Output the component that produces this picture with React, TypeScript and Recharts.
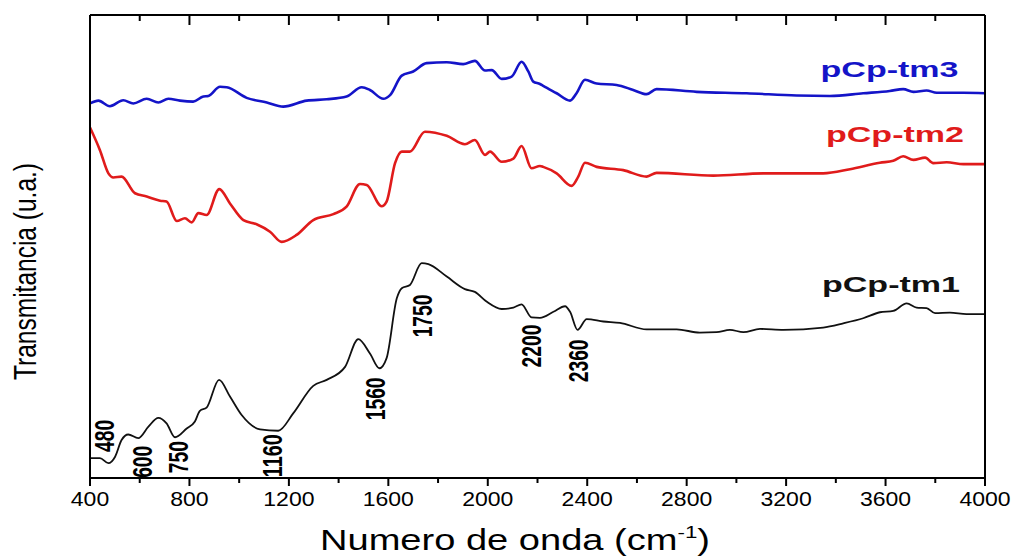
import React from 'react'
import { LineChart, Line, XAxis, YAxis, ReferenceDot } from 'recharts'

// pCp-tm3 (blue, top trace)
const tm3Wn = [400, 434, 480, 534, 574, 628, 675, 715, 762, 815, 856, 876, 923, 950, 1030, 1111, 1177, 1272, 1352, 1432, 1493, 1526, 1580, 1607, 1654, 1700, 1754, 1835, 1901, 1948, 1989, 2016, 2056, 2096, 2136, 2163, 2183, 2210, 2223, 2277, 2331, 2357, 2391, 2438, 2518, 2585, 2639, 2679, 2840, 3041, 3242, 3376, 3510, 3617, 3671, 3712, 3765, 3806, 3913, 4000]
const tm3T = [80.9, 81.5, 80.3, 81.6, 80.9, 81.9, 81.1, 81.9, 81.5, 81.3, 82.4, 82.5, 84.5, 84.4, 82.1, 81.1, 80.2, 81.5, 81.8, 82.4, 84.4, 83.8, 81.9, 82.7, 86.9, 87.8, 89.6, 89.8, 89.4, 90.1, 88.0, 88.1, 86.2, 86.7, 89.9, 87.8, 85.6, 85.1, 84.7, 83.1, 81.5, 83.1, 86.0, 85.2, 84.9, 83.8, 82.9, 84.0, 83.4, 83.1, 82.6, 82.5, 83.1, 83.6, 84.0, 83.4, 83.7, 83.2, 83.2, 83.1]

// pCp-tm2 (red, middle trace)
const tm2Wn = [400, 440, 474, 494, 527, 581, 628, 682, 708, 749, 782, 809, 836, 869, 920, 963, 1017, 1070, 1124, 1171, 1231, 1298, 1379, 1432, 1486, 1513, 1573, 1593, 1627, 1654, 1687, 1747, 1835, 1908, 1948, 1989, 2009, 2056, 2103, 2136, 2176, 2210, 2223, 2277, 2337, 2364, 2391, 2438, 2545, 2639, 2679, 2907, 3108, 3349, 3457, 3577, 3631, 3671, 3712, 3759, 3792, 3846, 3913, 4000]
const tm2T = [75.7, 70.8, 65.8, 64.9, 65.1, 61.5, 60.8, 59.9, 59.7, 55.5, 56.1, 55.2, 57.2, 56.8, 62.4, 59.3, 55.7, 54.8, 53.2, 51.0, 52.5, 55.7, 57.0, 58.6, 63.5, 63.3, 58.7, 59.7, 68.0, 70.5, 70.5, 74.8, 73.9, 72.1, 73.0, 69.8, 70.5, 68.3, 69.0, 71.7, 66.9, 67.4, 67.2, 65.8, 63.1, 65.1, 68.1, 67.2, 66.5, 65.1, 65.9, 65.3, 65.8, 65.8, 66.7, 68.1, 68.5, 69.5, 68.7, 69.2, 68.0, 68.2, 67.8, 67.8]

// pCp-tm1 (black, bottom trace)
const tm1Wn = [400, 440, 474, 501, 527, 554, 594, 635, 675, 708, 742, 789, 822, 842, 869, 919, 963, 1010, 1084, 1157, 1218, 1298, 1352, 1426, 1479, 1526, 1564, 1593, 1634, 1654, 1687, 1734, 1761, 1835, 1908, 1948, 1995, 2056, 2103, 2136, 2176, 2210, 2264, 2311, 2331, 2361, 2398, 2465, 2532, 2639, 2760, 2853, 2920, 2974, 3028, 3095, 3189, 3349, 3430, 3510, 3577, 3631, 3685, 3725, 3765, 3799, 3859, 3926, 4000]
const tm1T = [4.3, 4.3, 3.2, 4.6, 8.2, 9.4, 8.6, 11.1, 13.0, 11.8, 8.8, 10.7, 12.2, 14.5, 15.2, 21.2, 17.6, 13.6, 10.5, 10.2, 14.0, 19.9, 21.2, 24.0, 30.0, 26.9, 23.7, 25.9, 38.8, 41.0, 41.7, 46.4, 46.2, 43.5, 40.8, 40.2, 38.1, 36.5, 36.8, 37.5, 34.7, 34.6, 35.9, 37.1, 35.9, 32.0, 34.3, 33.8, 33.5, 32.1, 32.1, 31.4, 31.5, 32.0, 31.5, 32.2, 32.0, 32.5, 33.4, 34.5, 35.8, 36.1, 37.7, 36.8, 36.7, 35.6, 35.7, 35.4, 35.4]

// band annotations on the tm1 trace
const peakLabels = ['480', '600', '750', '1160', '1560', '1750', '2200', '2360']
const peakWn = [460, 613, 758, 1134, 1550, 1737, 2174, 2365]
const peakT = [9.1, 3.5, 4.5, 4.8, 17.1, 35.0, 28.5, 25.3]

const seriesNames = ['pCp-tm1', 'pCp-tm2', 'pCp-tm3']
const seriesColors = ['#111111', '#e01b1b', '#1414c8']
const seriesLabelWn = [3622, 3638, 3616]
const seriesLabelT = [40.2, 72.6, 86.6]

const xMajorTicks = [400, 800, 1200, 1600, 2000, 2400, 2800, 3200, 3600, 4000]
const xAllTicks = [400, 600, 800, 1000, 1200, 1400, 1600, 1800, 2000, 2200, 2400, 2600, 2800, 3000, 3200, 3400, 3600, 3800, 4000]

const FONT = '"Liberation Sans", Arial, Helvetica, sans-serif'

const toPoints = (wn: number[], t: number[]) => wn.map((w, i) => ({ wn: w, t: t[i] }))

const tm1Data = toPoints(tm1Wn, tm1T)
const tm2Data = toPoints(tm2Wn, tm2T)
const tm3Data = toPoints(tm3Wn, tm3T)

const BottomTick = (props: any) => {
  const { x, y, payload } = props
  const major = xMajorTicks.includes(payload.value)
  const label = String(payload.value)
  return (
    <g>
      <line x1={x} x2={x} y1={y} y2={y + (major ? 8 : 5)} stroke="#000" strokeWidth={2} />
      {major && (
        <text
          x={x}
          y={y + 28}
          textAnchor="middle"
          fontFamily={FONT}
          fontSize={20}
          fill="#000"
          textLength={label.length * 12.8}
          lengthAdjust="spacingAndGlyphs"
        >
          {label}
        </text>
      )}
    </g>
  )
}

const TopTick = (props: any) => {
  const { x, y, payload } = props
  const major = xMajorTicks.includes(payload.value)
  return <line x1={x} x2={x} y1={y} y2={y + (major ? 10 : 6)} stroke="#000" strokeWidth={2} />
}

const PeakText = ({ cx, cy, text }: { cx?: number; cy?: number; text: string }) => {
  if (cx == null || cy == null) return null
  return (
    <text
      x={cx}
      y={cy}
      transform={`rotate(-90, ${cx}, ${cy})`}
      textAnchor="middle"
      dominantBaseline="central"
      fontFamily={FONT}
      fontWeight="bold"
      fontSize={28}
      fill="#000"
      textLength={text.length * 10.7}
      lengthAdjust="spacingAndGlyphs"
    >
      {text}
    </text>
  )
}

const SeriesText = ({ cx, cy, text, color }: { cx?: number; cy?: number; text: string; color: string }) => {
  if (cx == null || cy == null) return null
  return (
    <text
      x={cx}
      y={cy}
      textAnchor="middle"
      fontFamily={FONT}
      fontWeight="bold"
      fontSize={22}
      fill={color}
      textLength={138}
      lengthAdjust="spacingAndGlyphs"
    >
      {text}
    </text>
  )
}

const frameLine = { stroke: '#000', strokeWidth: 2 }

export default function App() {
  return (
    <div style={{ position: 'absolute', left: 0, top: 0, width: 1016, height: 557, background: '#fff' }}>
      <LineChart width={1016} height={557} margin={{ top: 5, right: 21, bottom: 39, left: 80 }}>
        <XAxis
          dataKey="wn"
          type="number"
          domain={[400, 4000]}
          ticks={xAllTicks}
          interval={0}
          height={40}
          tickSize={0}
          tickMargin={0}
          tickLine={false}
          tick={<BottomTick />}
          axisLine={frameLine}
          allowDataOverflow
        />
        <XAxis
          xAxisId="top"
          orientation="top"
          dataKey="wn"
          type="number"
          domain={[400, 4000]}
          ticks={xAllTicks}
          interval={0}
          height={10}
          tickSize={0}
          tickMargin={0}
          tickLine={false}
          tick={<TopTick />}
          axisLine={frameLine}
          allowDataOverflow
        />
        <YAxis
          type="number"
          domain={[0, 100]}
          width={10}
          tick={false}
          tickLine={false}
          axisLine={frameLine}
          allowDataOverflow
        />
        <YAxis
          yAxisId="right"
          orientation="right"
          type="number"
          domain={[0, 100]}
          width={10}
          tick={false}
          tickLine={false}
          axisLine={frameLine}
          allowDataOverflow
        />
        <Line data={tm3Data} dataKey="t" type="monotone" stroke={seriesColors[2]} strokeWidth={2.6} dot={false} isAnimationActive={false} />
        <Line data={tm2Data} dataKey="t" type="monotone" stroke={seriesColors[1]} strokeWidth={2.6} dot={false} isAnimationActive={false} />
        <Line data={tm1Data} dataKey="t" type="monotone" stroke={seriesColors[0]} strokeWidth={1.8} dot={false} isAnimationActive={false} />
        {peakLabels.map((p, i) => (
          <ReferenceDot
            key={p}
            x={peakWn[i]}
            y={peakT[i]}
            r={0}
            ifOverflow="visible"
            shape={(s: any) => <PeakText cx={s.cx} cy={s.cy} text={p} />}
          />
        ))}
        {seriesNames.map((n, i) => (
          <ReferenceDot
            key={n}
            x={seriesLabelWn[i]}
            y={seriesLabelT[i]}
            r={0}
            ifOverflow="visible"
            shape={(s: any) => <SeriesText cx={s.cx} cy={s.cy} text={n} color={seriesColors[i]} />}
          />
        ))}
      </LineChart>
      <svg width={1016} height={557} style={{ position: 'absolute', left: 0, top: 0, pointerEvents: 'none' }}>
        <text
          x={36}
          y={271.5}
          transform="rotate(-90, 36, 271.5)"
          textAnchor="middle"
          fontFamily={FONT}
          fontSize={31}
          fill="#000"
          textLength={217}
          lengthAdjust="spacingAndGlyphs"
        >
          Transmitancia (u.a.)
        </text>
        <text x={515} y={550} textAnchor="middle" fontFamily={FONT} fontSize={29} fill="#000" textLength={390} lengthAdjust="spacingAndGlyphs">
          Numero de onda (cm
          <tspan fontSize={17} dy={-12}>-1</tspan>
          <tspan dy={12}>)</tspan>
        </text>
      </svg>
    </div>
  )
}
